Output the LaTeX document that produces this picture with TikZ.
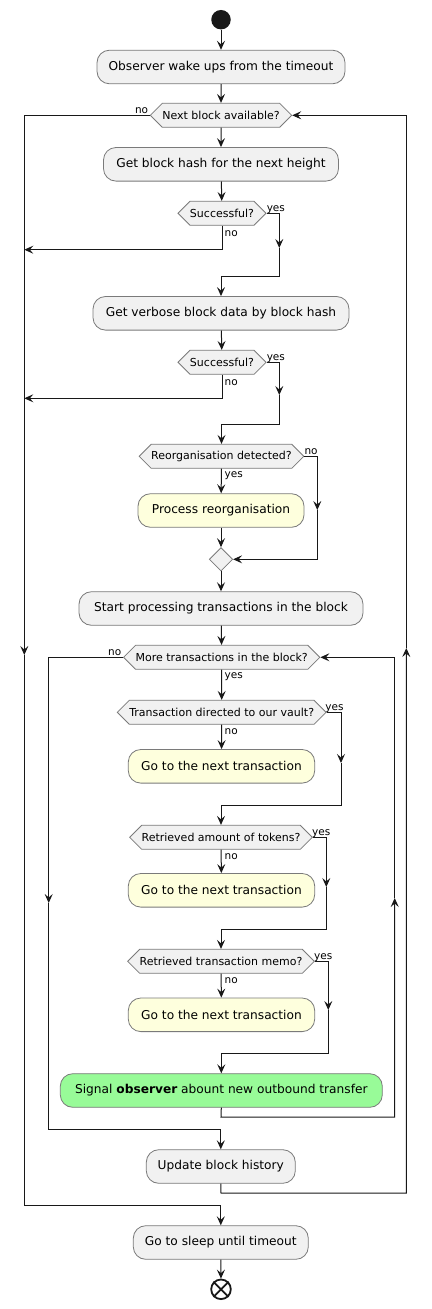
\documentclass[tikz,border=0pt]{standalone}
\usepackage{fontspec}
\setmainfont{DejaVu Sans}
\usetikzlibrary{arrows.meta,shapes.symbols,shapes.geometric}

\definecolor{actfill}{HTML}{F1F1F1}
\definecolor{yelfill}{HTML}{FEFFDD}
\definecolor{grnfill}{HTML}{98FB98}
\definecolor{bord}{HTML}{7A7A7A}
\definecolor{ink}{HTML}{181818}

\begin{document}
\begin{tikzpicture}[x=1pt,y=-1pt,
  act/.style={draw=bord, line width=0.8pt, fill=actfill, rounded corners=12.5pt, minimum height=33.6pt, inner xsep=0pt, text=black, font=\fontsize{12.2}{14}\selectfont},
  yel/.style={act, fill=yelfill},
  grn/.style={act, fill=grnfill},
  dec/.style={draw=bord, line width=0.8pt, fill=actfill, signal, signal to=east and west, signal from=nowhere, minimum height=24pt, inner xsep=0pt, inner ysep=0pt, font=\fontsize{11}{13}\selectfont},
  merge/.style={draw=bord, line width=0.8pt, fill=actfill, diamond, minimum width=23.4pt, minimum height=23.4pt, inner sep=0pt},
  lbl/.style={inner sep=0pt, font=\fontsize{10.5}{12}\selectfont},
  flow/.style={draw=ink, line width=1pt},
  arr/.style={flow, -{Stealth[length=9pt,width=8pt,inset=3.5pt]}},
]
\fill[white] (0,0) rectangle (431,1309);
\useasboundingbox (0,0) rectangle (431,1309);

% nodes
\node[circle, fill=ink, minimum size=19.5pt, inner sep=0pt] (start) at (221,19.7) {};
\node[act, minimum width=248pt] (a1) at (221,67) {Observer wake ups from the timeout};
\node[dec] (d1) at (221,115.3) {Next block available?};
\node[act, minimum width=235pt] (a2) at (221,164.3) {Get block hash for the next height};
\node[dec] (d2) at (222,213.3) {Successful?};
\node[act, minimum width=256pt] (a3) at (221,313.3) {Get verbose block data by block hash};
\node[dec] (d3) at (222,362.3) {Successful?};
\node[dec] (d4) at (221.5,456.3) {Reorganisation detected?};
\node[yel, minimum width=166pt] (a4) at (221,510.5) {Process reorganisation};
\node[merge] (m) at (221,559.3) {};
\node[act, minimum width=284pt] (a5) at (221,608.5) {Start processing transactions in the block};
\node[dec] (d5) at (221.7,657.3) {More transactions in the block?};
\node[dec] (d6) at (221.7,712.3) {Transaction directed to our vault?};
\node[yel, minimum width=186.4pt] (a6) at (221.5,766.3) {Go to the next transaction};
\node[dec] (d7) at (221,837.3) {Retrieved amount of tokens?};
\node[yel, minimum width=186.4pt] (a7) at (221.5,890.3) {Go to the next transaction};
\node[dec] (d8) at (221,961.3) {Retrieved transaction memo?};
\node[yel, minimum width=186.4pt] (a8) at (221.5,1014.8) {Go to the next transaction};
\node[grn, minimum width=322pt] (a9) at (221.3,1090.5) {Signal \textbf{observer} abount new outbound transfer};
\node[act, minimum width=149pt] (a10) at (220.8,1166.5) {Update block history};
\node[act, minimum width=175pt] (a11) at (220.8,1242.5) {Go to sleep until timeout};
\node[circle, draw=ink, line width=1.8pt, fill=white, minimum size=19.6pt, inner sep=0pt] (stop) at (221,1289.3) {};
\draw[ink, line width=1.8pt] (stop.north west) -- (stop.south east) (stop.north east) -- (stop.south west);

% labels
\node[lbl, anchor=base east] (l1n) at ([xshift=-1.5pt]d1.west |- 0,113.6) {no};
\node[lbl, anchor=base west] (l2y) at ([xshift=0pt]d2.east |- 0,211.6) {yes};
\node[lbl, anchor=base west] (l2n) at (224.5,236) {no};
\node[lbl, anchor=base west] (l3y) at ([xshift=0pt]d3.east |- 0,360.6) {yes};
\node[lbl, anchor=base west] (l3n) at (224.5,385) {no};
\node[lbl, anchor=base west] (l4n) at ([xshift=0pt]d4.east |- 0,454.6) {no};
\node[lbl, anchor=base west] (l4y) at (224.5,477.5) {yes};
\node[lbl, anchor=base east] (l5n) at ([xshift=-1.5pt]d5.west |- 0,655.6) {no};
\node[lbl, anchor=base west] (l5y) at (224.5,678.5) {yes};
\node[lbl, anchor=base west] (l6y) at ([xshift=-1.5pt]d6.east |- 0,710.6) {yes};
\node[lbl, anchor=base west] (l6n) at (224.5,734.5) {no};
\node[lbl, anchor=base west] (l7y) at ([xshift=-1pt]d7.east |- 0,835.6) {yes};
\node[lbl, anchor=base west] (l7n) at (224.5,859.5) {no};
\node[lbl, anchor=base west] (l8y) at ([xshift=-1pt]d8.east |- 0,959.6) {yes};
\node[lbl, anchor=base west] (l8n) at (224.5,983.5) {no};

% connectors
\draw[arr] (start) -- (a1);
\draw[arr] (a1) -- (d1);
\draw[arr] (d1) -- (a2);
\draw[arr] (a2) -- (d2);
\draw[arr] (d2.east) -| (279.3,248);
\draw[arr] (279.3,248) -- (279.3,276.3) -| (a3.north);
\draw[arr] (d2.south) |- (24.3,249.7);
\draw[arr] (a3) -- (d3);
\draw[arr] (d3.east) -| (279.3,395);
\draw[arr] (279.3,395) -- (279.3,424) -| (d4.north);
\draw[arr] (d3.south) |- (24.3,398.3);
\draw[arr] (d4) -- (a4);
\draw[arr] (d4.east) -| (317.3,510);
\draw[arr] (317.3,510) |- (m.east);
\draw[arr] (a4) -- (m);
\draw[arr] (m) -- (a5);
\draw[arr] (a5) -- (d5);
\draw[arr] (d5) -- (d6);
\draw[arr] (d6.east) -| (341,763);
\draw[arr] (341,763) -- (341,805) -| (d7.north);
\draw[arr] (d6) -- (a6);
\draw[arr] (d7.east) -| (326.3,887);
\draw[arr] (326.3,887) -- (326.3,929.3) -| (d8.north);
\draw[arr] (d7) -- (a7);
\draw[arr] (d8.east) -| (328.3,1010);
\draw[arr] (328.3,1010) -- (328.3,1053) -| (a9.north);
\draw[arr] (d8) -- (a8);
\draw[arr] (a9.south) -- (221,1117) -| (394.7,898);
\draw[arr] (394.7,898) |- (d5.east);
\draw[arr] (d5.west) -| (48.7,903);
\draw[arr] (48.7,903) -- (48.7,1129.3) -| (a10.north);
\draw[arr] (a10.south) -- (221,1193) -| (406.3,648);
\draw[arr] (406.3,648) |- (d1.east);
\draw[arr] (d1.west) -| (24.3,655);
\draw[arr] (24.3,655) -- (24.3,1205.3) -| (a11.north);
\draw[arr] (a11) -- (stop);
\end{tikzpicture}
\end{document}
